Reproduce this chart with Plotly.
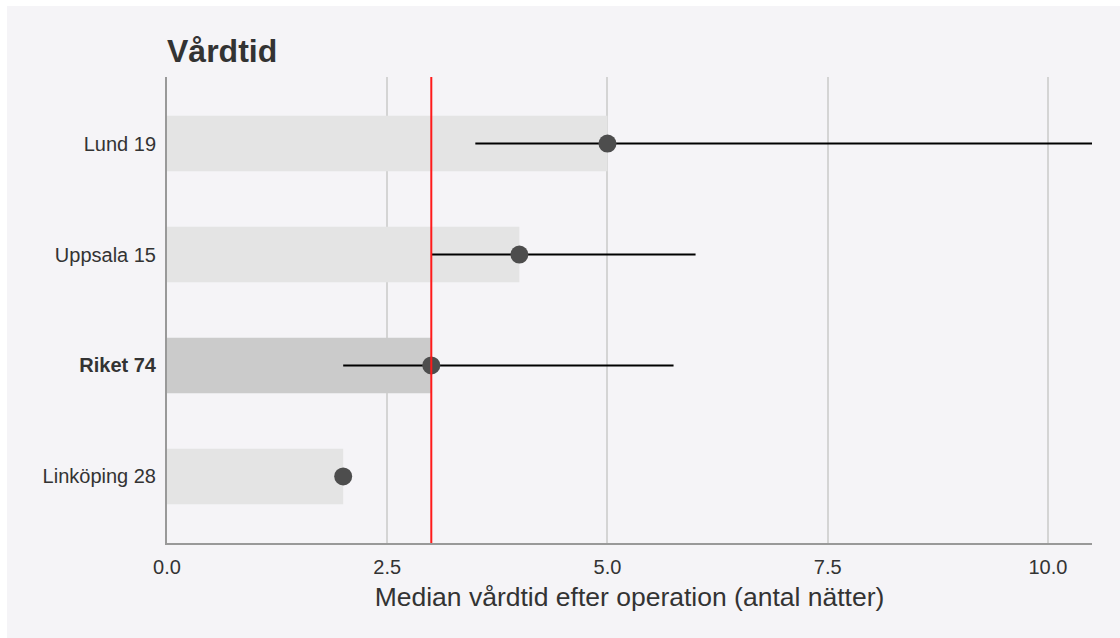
import plotly.graph_objects as go

# Hospital units (top to bottom), with number of patients
units = ["Lund", "Uppsala", "Riket", "Linköping"]
patients = [19, 15, 74, 28]
median_nights = [5.0, 4.0, 3.0, 2.0]
lower_q = [3.5, 3.0, 2.0, 2.0]
upper_q = [10.5, 6.0, 5.75, 2.0]
national = "Riket"

x_ticks = [0.0, 2.5, 5.0, 7.5, 10.0]
x_tick_text = ["0.0", "2.5", "5.0", "7.5", "10.0"]

BG = "#f5f4f7"
W, H = 1120, 638
ML, MR, MT, MB = 167, 28, 77, 95

labels = []
for u, n in zip(units, patients):
    txt = f"{u} {n}"
    labels.append(f"<b>{txt}</b>" if u == national else txt)

bar_colors = ["#cbcbcb" if u == national else "#e4e4e4" for u in units]

fig = go.Figure()
fig.add_trace(go.Bar(
    x=median_nights, y=labels, orientation="h", width=0.5,
    marker=dict(color=bar_colors, line=dict(width=0)),
    hoverinfo="skip", showlegend=False,
))
fig.add_trace(go.Scatter(
    x=median_nights, y=labels, mode="markers",
    marker=dict(size=18, color="#4d4d4d"),
    error_x=dict(
        type="data", symmetric=False,
        array=[u - m for u, m in zip(upper_q, median_nights)],
        arrayminus=[m - l for m, l in zip(median_nights, lower_q)],
        color="black", thickness=2, width=0,
    ),
    showlegend=False,
))

national_median = median_nights[units.index(national)]
pw, ph = W - ML - MR, H - MT - MB
shapes = [
    dict(type="line", xref="x", yref="paper", x0=national_median, x1=national_median,
         y0=0, y1=1, line=dict(color="#ff1a1a", width=2), layer="above"),
    # white page edge at top and left
    dict(type="rect", xref="paper", yref="paper",
         x0=-ML / pw, x1=(W - ML) / pw, y0=(H - MB - 6) / ph, y1=(H - MB) / ph + 0.01,
         fillcolor="white", line=dict(width=0), layer="below"),
    dict(type="rect", xref="paper", yref="paper",
         x0=-ML / pw - 0.01, x1=(-ML + 7) / pw, y0=-MB / ph - 0.01, y1=(H - MB) / ph + 0.01,
         fillcolor="white", line=dict(width=0), layer="below"),
]

fig.update_layout(
    width=W, height=H,
    margin=dict(l=ML, r=MR, t=MT, b=MB),
    paper_bgcolor=BG, plot_bgcolor=BG,
    font=dict(family="Liberation Sans, Arial, sans-serif", color="#333333"),
    title=dict(text="<b>Vårdtid</b>", x=ML / W, xanchor="left", y=1 - 51 / H, yanchor="middle",
               font=dict(size=32, color="#333333")),
    shapes=shapes,
    bargap=0.5,
)
fig.update_xaxes(
    range=[0, 10.5], tickvals=x_ticks, ticktext=x_tick_text,
    showgrid=True, gridcolor="#d4d4d4", gridwidth=2,
    showline=True, linecolor="#999999", linewidth=2,
    zeroline=False, ticks="", ticklabelstandoff=5, tickfont=dict(size=20, color="#333333"),
    title=dict(text="Median vårdtid efter operation (antal nätter)", font=dict(size=26.5, color="#333333"),
               standoff=10),
)
fig.update_yaxes(
    categoryorder="array", categoryarray=labels,
    range=[3.6, -0.6], showgrid=False, zeroline=False,
    showline=True, linecolor="#999999", linewidth=2,
    ticks="", ticklabelstandoff=5, tickfont=dict(size=20, color="#333333"),
)

fig.write_html("out.html")
